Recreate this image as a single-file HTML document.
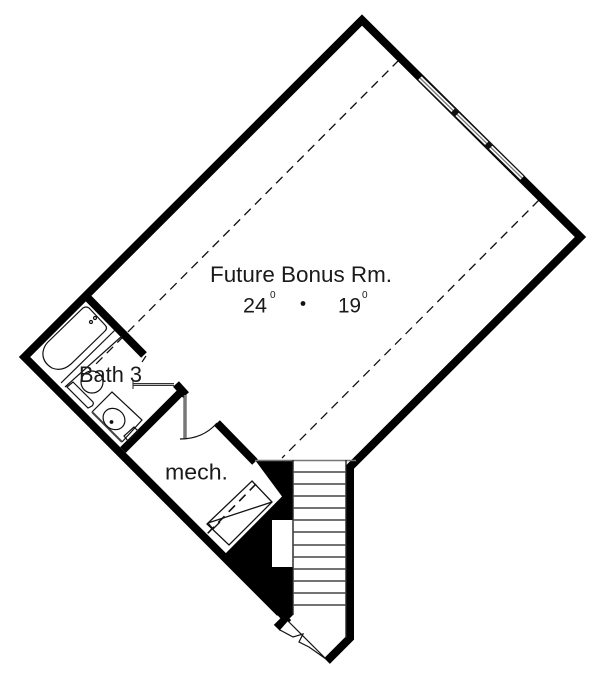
<!DOCTYPE html>
<html><head><meta charset="utf-8"><style>
html,body{margin:0;padding:0;background:#fff;width:600px;height:682px;overflow:hidden}
svg{display:block}
text{font-family:"Liberation Sans",sans-serif;fill:#1a1a1a}
</style></head><body>
<svg width="600" height="682" viewBox="0 0 600 682" xmlns="http://www.w3.org/2000/svg">
<rect width="600" height="682" fill="#fff"/>
<!-- black fill -->
<path d="M255 460L293 460L293 615L285 623L280 618L225 554L282 496.500Z" fill="#000"/>
<rect x="272" y="520" width="20.500" height="47" fill="#fff"/>
<!-- dashed -->
<g fill="none" stroke="#111" stroke-width="1.3" stroke-dasharray="9 6">
<path d="M399 60L93 367"/>
<path d="M539 200L282 458"/>
<path d="M256 484L207 534" stroke-width="1.6"/>
</g>
<!-- closet unit -->
<g fill="none" stroke="#111" stroke-width="1.3">
<path d="M252 481L272 502L229 545L207 524Z"/>
<path d="M208 523L272 502"/>
<path d="M208 523L213 529L220 522"/>
</g>
<!-- outer walls -->
<g fill="none" stroke="#000" stroke-width="8" stroke-linejoin="miter" stroke-miterlimit="4">
<path d="M280 613L24.500 357L362 20L580.500 237L350 467L350 638L327 661"/>
<path d="M87 297L144 355"/>
<path d="M123 450L183 390"/>
<path d="M176 384L186 395"/>
<path d="M217 423L255 462"/>
<path d="M277 628L288 617" stroke-width="9"/>
</g>
<!-- stairs -->
<g stroke="#444" stroke-width="1.4">
<path d="M255 460.500H356" stroke="#777"/>
<path d="M293 460V615M346 460V638" stroke="#222"/>
<path d="M293 472H346M293 484H346M293 496H346M293 508H346M293 520H346M293 532H346M293 545H346M293 557H346M293 569H346M293 581H346M293 593H346M293 605H346"/>
</g>
<!-- closet door -->
<path d="M288 621L326 659L309 647L299 642L303 634L293 637L280 630" fill="#fff" stroke="#111" stroke-width="1.2"/>
<!-- window -->
<g fill="none">
<path d="M420 78L522 178" stroke="#111" stroke-width="7"/>
<path d="M420 78L522 178" stroke="#fff" stroke-width="4.500"/>
<path d="M420 78L522 178" stroke="#777" stroke-width="1.300"/>
<path d="M453 110.500L457 114.500M486.500 143.500L490.500 147.500" stroke="#111" stroke-width="7"/>
</g>
<!-- tub -->
<g fill="none" stroke="#111" stroke-width="1.2">
<path d="M83 308Q86 306 89 308L105 325Q108 328 105 331L71 364Q62 372 52 368Q42 362 43 352Q44 346 48 342Z"/>
<path d="M61 383L115 330"/>
<path d="M65 387L122 336"/>
<circle cx="91" cy="322" r="1.500"/><circle cx="95" cy="318" r="1.500"/>
<!-- toilet -->
<circle cx="92" cy="382" r="11"/>
<path d="M67 387L73 382L93 402Q94 404 92 406L88 408Z" fill="#fff"/>
<!-- vanity -->
<path d="M92 412L112 392L142 420L122 442"/>
<path d="M92 412L122 442" stroke="#444" stroke-width="2"/>
<ellipse cx="114" cy="419" rx="11.500" ry="10" transform="rotate(40 114 419)"/>
<circle cx="111.500" cy="422" r="1.300" fill="#111"/>
<path d="M124 436L134 427L138 431L128 441Z"/>
<!-- bath wall arc -->
<path d="M146 356L142 362"/>
</g>
<!-- doors -->
<g fill="none">
<path d="M133 384.500H174" stroke="#333" stroke-width="3"/>
<path d="M133 384.500H174" stroke="#bbb" stroke-width="1"/>
<path d="M133 381V389" stroke="#222" stroke-width="1"/>
<path d="M185 395V439" stroke="#333" stroke-width="3"/>
<path d="M185 395V439" stroke="#bbb" stroke-width="1"/>
<path d="M180 439Q203 439 217 423" stroke="#111" stroke-width="1.2"/>
</g>
<!-- text -->
<text x="210" y="282" font-size="22" textLength="182" lengthAdjust="spacingAndGlyphs">Future Bonus Rm.</text>
<text x="243" y="312.500" font-size="21.500" textLength="24" lengthAdjust="spacingAndGlyphs">24</text>
<text x="270" y="298" font-size="10">0</text>
<circle cx="303" cy="303.500" r="2.400" fill="#111"/>
<text x="338" y="312.500" font-size="21.500" textLength="23" lengthAdjust="spacingAndGlyphs">19</text>
<text x="362" y="298" font-size="10">0</text>
<text x="79" y="382" font-size="22" textLength="63" lengthAdjust="spacingAndGlyphs">Bath 3</text>
<text x="165" y="479.500" font-size="22" textLength="63" lengthAdjust="spacingAndGlyphs">mech.</text>
</svg>
</body></html>
